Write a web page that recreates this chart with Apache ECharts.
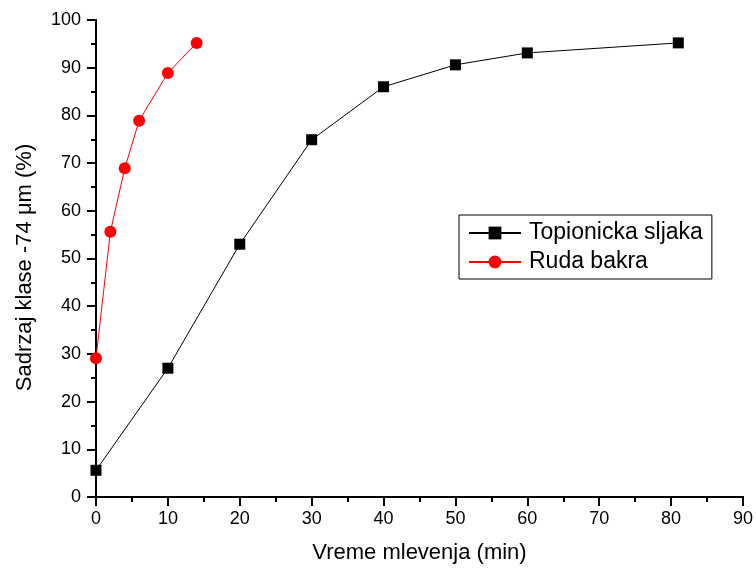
<!DOCTYPE html>
<html>
<head>
<meta charset="utf-8">
<script src="https://cdn.jsdelivr.net/npm/echarts@6/dist/echarts.min.js"></script>
<style>
html,body{margin:0;padding:0;background:#fff;}
#c{width:756px;height:569px;}
</style>
</head>
<body>
<div id="c"></div>
<script>
const seriesNames = ['Topionicka sljaka', 'Ruda bakra'];
const slagX = [0, 10, 20, 30, 40, 50, 60, 81];
const slagY = [5.6, 27, 53, 74.9, 86, 90.6, 93.1, 95.2];
const oreX = [0, 2, 4, 6, 10, 14];
const oreY = [29.1, 55.6, 68.9, 78.9, 88.9, 95.2];
const xTitle = 'Vreme mlevenja (min)';
const yTitle = 'Sadrzaj klase -74 \u03bcm (%)';

const font = 'Arial, "Liberation Sans", sans-serif';
const chart = echarts.init(document.getElementById('c'), null, {renderer: 'canvas'});

const axisLine = {show: true, lineStyle: {color: '#000', width: 2}};
const hiddenLabel = {show: false};

chart.setOption({
  animation: false,
  backgroundColor: '#fff',
  grid: {left: 96, right: 13, top: 20, bottom: 71, containLabel: false},
  legend: {
    orient: 'vertical',
    left: 459, top: 215,
    width: 256,
    padding: [4, 9, 3, 9],
    itemGap: 1,
    itemWidth: 52,
    itemHeight: 16,
    borderColor: '#000',
    borderWidth: 1,
    backgroundColor: '#fff',
    textStyle: {fontFamily: font, fontSize: 23, color: '#000', lineHeight: 28, padding: [0, 0, 0, 3]},
    data: seriesNames
  },
  xAxis: [
    {
      type: 'value', min: 0, max: 90, interval: 10,
      position: 'bottom',
      name: xTitle, nameLocation: 'middle', nameGap: 45,
      nameTextStyle: {fontFamily: font, fontSize: 22, color: '#000'},
      axisLine: axisLine,
      axisTick: {show: true, inside: false, length: 9, lineStyle: {color: '#000', width: 2}},
      minorTick: {show: true, splitNumber: 2, length: 5, lineStyle: {color: '#000', width: 2}},
      axisLabel: {fontFamily: font, fontSize: 18, color: '#000', margin: 13},
      splitLine: {show: false}
    },
    {
      type: 'value', min: 0, max: 90, interval: 10,
      position: 'top',
      axisLine: axisLine,
      axisTick: {show: true, inside: true, length: 2, lineStyle: {color: '#000', width: 2}},
      minorTick: {show: true, splitNumber: 2, length: 2, lineStyle: {color: '#000', width: 2}},
      axisLabel: hiddenLabel,
      splitLine: {show: false}
    }
  ],
  yAxis: [
    {
      type: 'value', min: 0, max: 100, interval: 10,
      position: 'left',
      name: yTitle, nameLocation: 'middle', nameGap: 60,
      nameTextStyle: {fontFamily: font, fontSize: 22, color: '#000', padding: [0, 18, 0, 0]},
      axisLine: axisLine,
      axisTick: {show: true, inside: false, length: 9, lineStyle: {color: '#000', width: 2}},
      minorTick: {show: true, splitNumber: 2, length: 5, lineStyle: {color: '#000', width: 2}},
      axisLabel: {fontFamily: font, fontSize: 18, color: '#000', margin: 15},
      splitLine: {show: false}
    },
    {
      type: 'value', min: 0, max: 100, interval: 10,
      position: 'right',
      axisLine: axisLine,
      axisTick: {show: true, inside: true, length: 2, lineStyle: {color: '#000', width: 2}},
      minorTick: {show: true, splitNumber: 2, length: 2, lineStyle: {color: '#000', width: 2}},
      axisLabel: hiddenLabel,
      splitLine: {show: false}
    }
  ],
  series: [
    {
      name: seriesNames[0], type: 'line',
      xAxisIndex: 0, yAxisIndex: 0,
      data: slagX.map((x, i) => [x, slagY[i]]),
      symbol: 'rect', symbolSize: 11,
      itemStyle: {color: '#000'},
      lineStyle: {color: '#000', width: 1},
      z: 3
    },
    {
      name: seriesNames[1], type: 'line',
      xAxisIndex: 0, yAxisIndex: 0,
      data: oreX.map((x, i) => [x, oreY[i]]),
      symbol: 'circle', symbolSize: 12,
      itemStyle: {color: '#ff0000'},
      lineStyle: {color: '#ff0000', width: 1},
      z: 4
    }
  ]
});
</script>
</body>
</html>
